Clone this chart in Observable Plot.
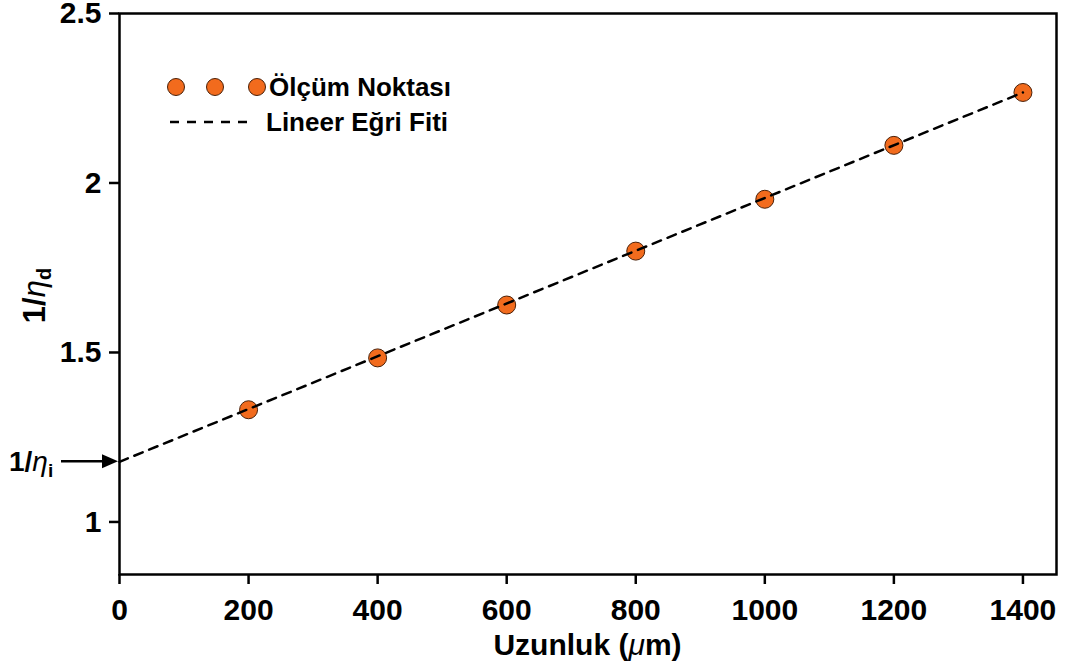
<!DOCTYPE html>
<html>
<head>
<meta charset="utf-8">
<script src="https://cdn.jsdelivr.net/npm/d3@7"></script>
<script src="https://cdn.jsdelivr.net/npm/@observablehq/plot@0.6"></script>
<style>
  html, body { margin: 0; padding: 0; background: #fff; }
  #chart { position: relative; width: 1065px; height: 672px; }
  svg { font-family: "Liberation Sans", Arial, sans-serif; }
</style>
</head>
<body>
<div id="chart"></div>
<script>
// ---- Data ----
const lengths = [200, 400, 600, 800, 1000, 1200, 1400];
const invEtaD = [1.331, 1.484, 1.640, 1.799, 1.952, 2.111, 2.267];
const fitX = [0, 1400];
const fitY = [1.1775, 2.267];
const interceptY = 1.1775;
const xTicks = [0, 200, 400, 600, 800, 1000, 1200, 1400];
const yTicks = [1, 1.5, 2, 2.5];
const yTickLabels = ["1", "1.5", "2", "2.5"];
const legendLabels = ["Ölçüm Noktası", "Lineer Eğri Fiti"];
const xLabel = "Uzunluk (";
const xLabelMu = "μ";
const xLabelEnd = "m)";

const points = lengths.map((x, i) => ({x, y: invEtaD[i]}));
const fit = fitX.map((x, i) => ({x, y: fitY[i]}));

const orange = "#f26b1d";
const dotStroke = "#4a2008";

const plot = Plot.plot({
  width: 1065,
  height: 672,
  marginTop: 13,
  marginRight: 9,
  marginBottom: 98,
  marginLeft: 119,
  x: {domain: [0, 1452]},
  y: {domain: [0.845, 2.5]},
  style: {fontFamily: '"Liberation Sans", Arial, sans-serif', background: "#fff", color: "#000"},
  marks: [
    Plot.axisX({ticks: xTicks, tickSize: 10, tickPadding: 14, fontSize: 30, fontWeight: "bold",
      strokeWidth: 2.5, tickFormat: d => String(d), label: null}),
    Plot.axisY({ticks: yTicks, tickSize: 10, tickPadding: 8, fontSize: 30, fontWeight: "bold",
      strokeWidth: 2.5, tickFormat: d => yTickLabels[yTicks.indexOf(d)], label: null}),
    Plot.dot(points, {x: "x", y: "y", r: 9, fill: orange, stroke: dotStroke, strokeWidth: 1}),
    Plot.line(fit, {x: "x", y: "y", stroke: "#000", strokeWidth: 2.5, strokeDasharray: "9,7"}),
    Plot.frame({stroke: "#000", strokeWidth: 2.5})
  ]
});
document.getElementById("chart").appendChild(plot);

const svg = d3.select(plot);
const xs = plot.scale("x"), ys = plot.scale("y");
const font = '"Liberation Sans", Arial, sans-serif';

// X axis label
const xl = svg.append("text")
  .attr("x", (xs.apply(0) + 1056) / 2).attr("y", 655)
  .attr("text-anchor", "middle").attr("font-size", 30).attr("font-weight", "bold")
  .attr("font-family", font).attr("fill", "#000");
xl.append("tspan").text(xLabel);
xl.append("tspan").attr("font-style", "italic").attr("font-weight", "normal").text(xLabelMu);
xl.append("tspan").text(xLabelEnd);

// Y axis label
const yl = svg.append("text")
  .attr("transform", `translate(45, ${(ys.apply(2.5) + ys.apply(0.845)) / 2 + 2}) rotate(-90)`)
  .attr("text-anchor", "middle").attr("font-size", 31).attr("font-weight", "bold")
  .attr("font-family", font).attr("fill", "#000");
yl.append("tspan").text("1/");
yl.append("tspan").attr("font-style", "italic").attr("font-weight", "normal").text("η");
yl.append("tspan").attr("font-size", 20).attr("dy", 6).text("d");

// Intercept annotation
const yi = ys.apply(interceptY);
const il = svg.append("text")
  .attr("x", 9).attr("y", yi + 10)
  .attr("text-anchor", "start")
  .attr("font-size", 28).attr("font-weight", "bold")
  .attr("font-family", font).attr("fill", "#000");
il.append("tspan").text("1/");
il.append("tspan").attr("font-style", "italic").attr("font-weight", "normal").text("η");
il.append("tspan").attr("font-size", 19).attr("dy", 6).text("i");
const x0 = xs.apply(0);
svg.append("line").attr("x1", 61).attr("x2", x0 - 14).attr("y1", yi).attr("y2", yi)
  .attr("stroke", "#000").attr("stroke-width", 2.5);
svg.append("path").attr("d", `M${x0 - 1},${yi} L${x0 - 17},${yi - 7} L${x0 - 17},${yi + 7} Z`)
  .attr("fill", "#000");

// Legend
const lg = svg.append("g").attr("font-family", font).attr("text-anchor", "start");
[176, 215, 257].forEach(cx => {
  lg.append("circle").attr("cx", cx).attr("cy", 87).attr("r", 8.5)
    .attr("fill", orange).attr("stroke", dotStroke).attr("stroke-width", 1);
});
lg.append("text").attr("x", 269).attr("y", 96).attr("font-size", 26).attr("font-weight", "bold")
  .attr("fill", "#000").text(legendLabels[0]);
lg.append("line").attr("x1", 170).attr("x2", 252).attr("y1", 122).attr("y2", 122)
  .attr("stroke", "#000").attr("stroke-width", 2.5).attr("stroke-dasharray", "9,8");
lg.append("text").attr("x", 266).attr("y", 131).attr("font-size", 26).attr("font-weight", "bold")
  .attr("fill", "#000").text(legendLabels[1]);
</script>
</body>
</html>
